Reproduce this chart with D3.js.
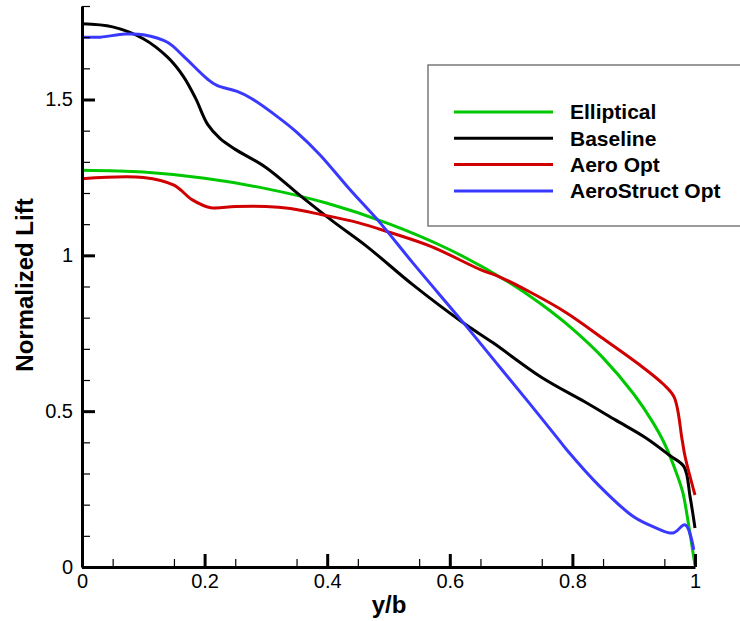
<!DOCTYPE html>
<html>
<head>
<meta charset="utf-8">
<script src="https://cdn.jsdelivr.net/npm/d3@7"></script>
<style>
  body { margin: 0; background: #fff; }
  svg { display: block; font-family: Arial, "Liberation Sans", Helvetica, sans-serif; }
</style>
</head>
<body>
<svg id="chart" width="740" height="621"></svg>
<script>
// spanwise lift distributions
const seriesNames = ['Elliptical', 'Baseline', 'Aero Opt', 'AeroStruct Opt'];

const ellipticalX = [0, 0.1, 0.2, 0.3, 0.4, 0.5, 0.6, 0.7, 0.75, 0.8, 0.85, 0.9, 0.93, 0.95, 0.97, 0.98, 0.99, 1.0];
const ellipticalY = [1.273, 1.267, 1.247, 1.214, 1.167, 1.102, 1.018, 0.909, 0.842, 0.764, 0.671, 0.555, 0.468, 0.397, 0.3, 0.24, 0.13, 0.005];

const baselineX = [0, 0.05, 0.1, 0.14, 0.165, 0.185, 0.205, 0.225, 0.25, 0.3, 0.36, 0.41, 0.465, 0.54, 0.62, 0.67, 0.75, 0.82, 0.87, 0.92, 0.96, 0.982, 0.992, 1.0];
const baselineY = [1.743, 1.733, 1.695, 1.635, 1.575, 1.505, 1.42, 1.375, 1.34, 1.282, 1.185, 1.108, 1.028, 0.905, 0.786, 0.72, 0.608, 0.53, 0.472, 0.414, 0.356, 0.322, 0.225, 0.125];

const aeroX = [0, 0.1, 0.15, 0.18, 0.21, 0.25, 0.3, 0.34, 0.39, 0.45, 0.5, 0.57, 0.65, 0.68, 0.73, 0.79, 0.85, 0.91, 0.948, 0.966, 0.979, 0.984, 1.0];
const aeroY = [1.246, 1.25, 1.225, 1.178, 1.153, 1.157, 1.157, 1.15, 1.131, 1.105, 1.075, 1.028, 0.954, 0.932, 0.883, 0.816, 0.733, 0.648, 0.587, 0.545, 0.408, 0.353, 0.231];

const structX = [0, 0.03, 0.07, 0.1, 0.14, 0.165, 0.205, 0.22, 0.253, 0.275, 0.318, 0.351, 0.388, 0.437, 0.486, 0.54, 0.622, 0.68, 0.73, 0.775, 0.79, 0.845, 0.9, 0.937, 0.964, 0.984, 0.998];
const structY = [1.70, 1.70, 1.71, 1.708, 1.683, 1.64, 1.565, 1.545, 1.526, 1.505, 1.446, 1.394, 1.323, 1.211, 1.105, 0.975, 0.784, 0.645, 0.525, 0.415, 0.378, 0.258, 0.161, 0.125, 0.109, 0.135, 0.055];

const xTicks = [0, 0.2, 0.4, 0.6, 0.8, 1];
const yTicks = [0, 0.5, 1, 1.5];

const colors = ['#00c800', '#000000', '#d00000', '#3838ff'];

const svg = d3.select('#chart');

const x = d3.scaleLinear().domain([0, 1]).range([82, 695]);
const y = d3.scaleLinear().domain([0, 1.8]).range([567, 6]);

const zip = (xs, ys) => xs.map((v, i) => [v, ys[i]]);
const series = [
  zip(ellipticalX, ellipticalY),
  zip(baselineX, baselineY),
  zip(aeroX, aeroY),
  zip(structX, structY)
];

const line = d3.line()
  .curve(d3.curveCatmullRom.alpha(0.5))
  .x(d => x(d[0]))
  .y(d => y(d[1]));

// curves
svg.append('g').selectAll('path')
  .data(series)
  .join('path')
  .attr('d', line)
  .attr('fill', 'none')
  .attr('stroke', (d, i) => colors[i])
  .attr('stroke-width', 3)
  .attr('stroke-linejoin', 'round');

const fmt = d3.format('~g');

// minor ticks first, drawn inward
svg.append('g')
  .attr('transform', 'translate(0,' + y(0) + ')')
  .call(d3.axisBottom(x).tickValues(d3.range(0.05, 1, 0.1)).tickSize(-8).tickFormat(''))
  .call(g => g.select('.domain').remove())
  .call(g => g.selectAll('line').attr('stroke-width', 1.2));

svg.append('g')
  .attr('transform', 'translate(' + x(0) + ',0)')
  .call(d3.axisLeft(y).tickValues([0.1, 0.2, 0.3, 0.4, 0.6, 0.7, 0.8, 0.9, 1.1, 1.2, 1.3, 1.4, 1.6, 1.7, 1.8]).tickSize(-8).tickFormat(''))
  .call(g => g.select('.domain').remove())
  .call(g => g.selectAll('line').attr('stroke-width', 1.2));

// major axes
const xAxis = svg.append('g')
  .attr('transform', 'translate(0,' + y(0) + ')')
  .call(d3.axisBottom(x).tickValues(xTicks).tickSize(-13).tickSizeOuter(0).tickPadding(7).tickFormat(fmt));

const yAxis = svg.append('g')
  .attr('transform', 'translate(' + x(0) + ',0)')
  .call(d3.axisLeft(y).tickValues(yTicks).tickSize(-13).tickSizeOuter(0).tickPadding(9).tickFormat(fmt));

[xAxis, yAxis].forEach(a => {
  a.select('.domain').attr('stroke-width', 3);
  a.selectAll('.tick line').attr('stroke-width', 3);
  a.selectAll('.tick text')
    .attr('fill', '#000')
    .style('font-size', '20px');
});

// axis titles
svg.append('text')
  .attr('x', 389)
  .attr('y', 613)
  .attr('text-anchor', 'middle')
  .style('font-size', '24px')
  .style('font-weight', 'bold')
  .text('y/b');

svg.append('text')
  .attr('transform', 'translate(33,285) rotate(-90)')
  .attr('text-anchor', 'middle')
  .style('font-size', '24px')
  .style('font-weight', 'bold')
  .text('Normalized Lift');

// legend
const legend = svg.append('g');
legend.append('rect')
  .attr('x', 428)
  .attr('y', 65)
  .attr('width', 330)
  .attr('height', 161)
  .attr('fill', '#fff')
  .attr('stroke', '#7a7a7a')
  .attr('stroke-width', 1.5);

const rows = legend.selectAll('g.row')
  .data(seriesNames)
  .join('g')
  .attr('class', 'row')
  .attr('transform', (d, i) => 'translate(0,' + (112 + i * 26.3) + ')');

rows.append('line')
  .attr('x1', 454).attr('x2', 553)
  .attr('stroke', (d, i) => colors[i])
  .attr('stroke-width', 3);

rows.append('text')
  .attr('x', 570)
  .attr('dy', '0.35em')
  .style('font-size', '21px')
  .style('font-weight', 'bold')
  .text(d => d);
</script>
</body>
</html>
